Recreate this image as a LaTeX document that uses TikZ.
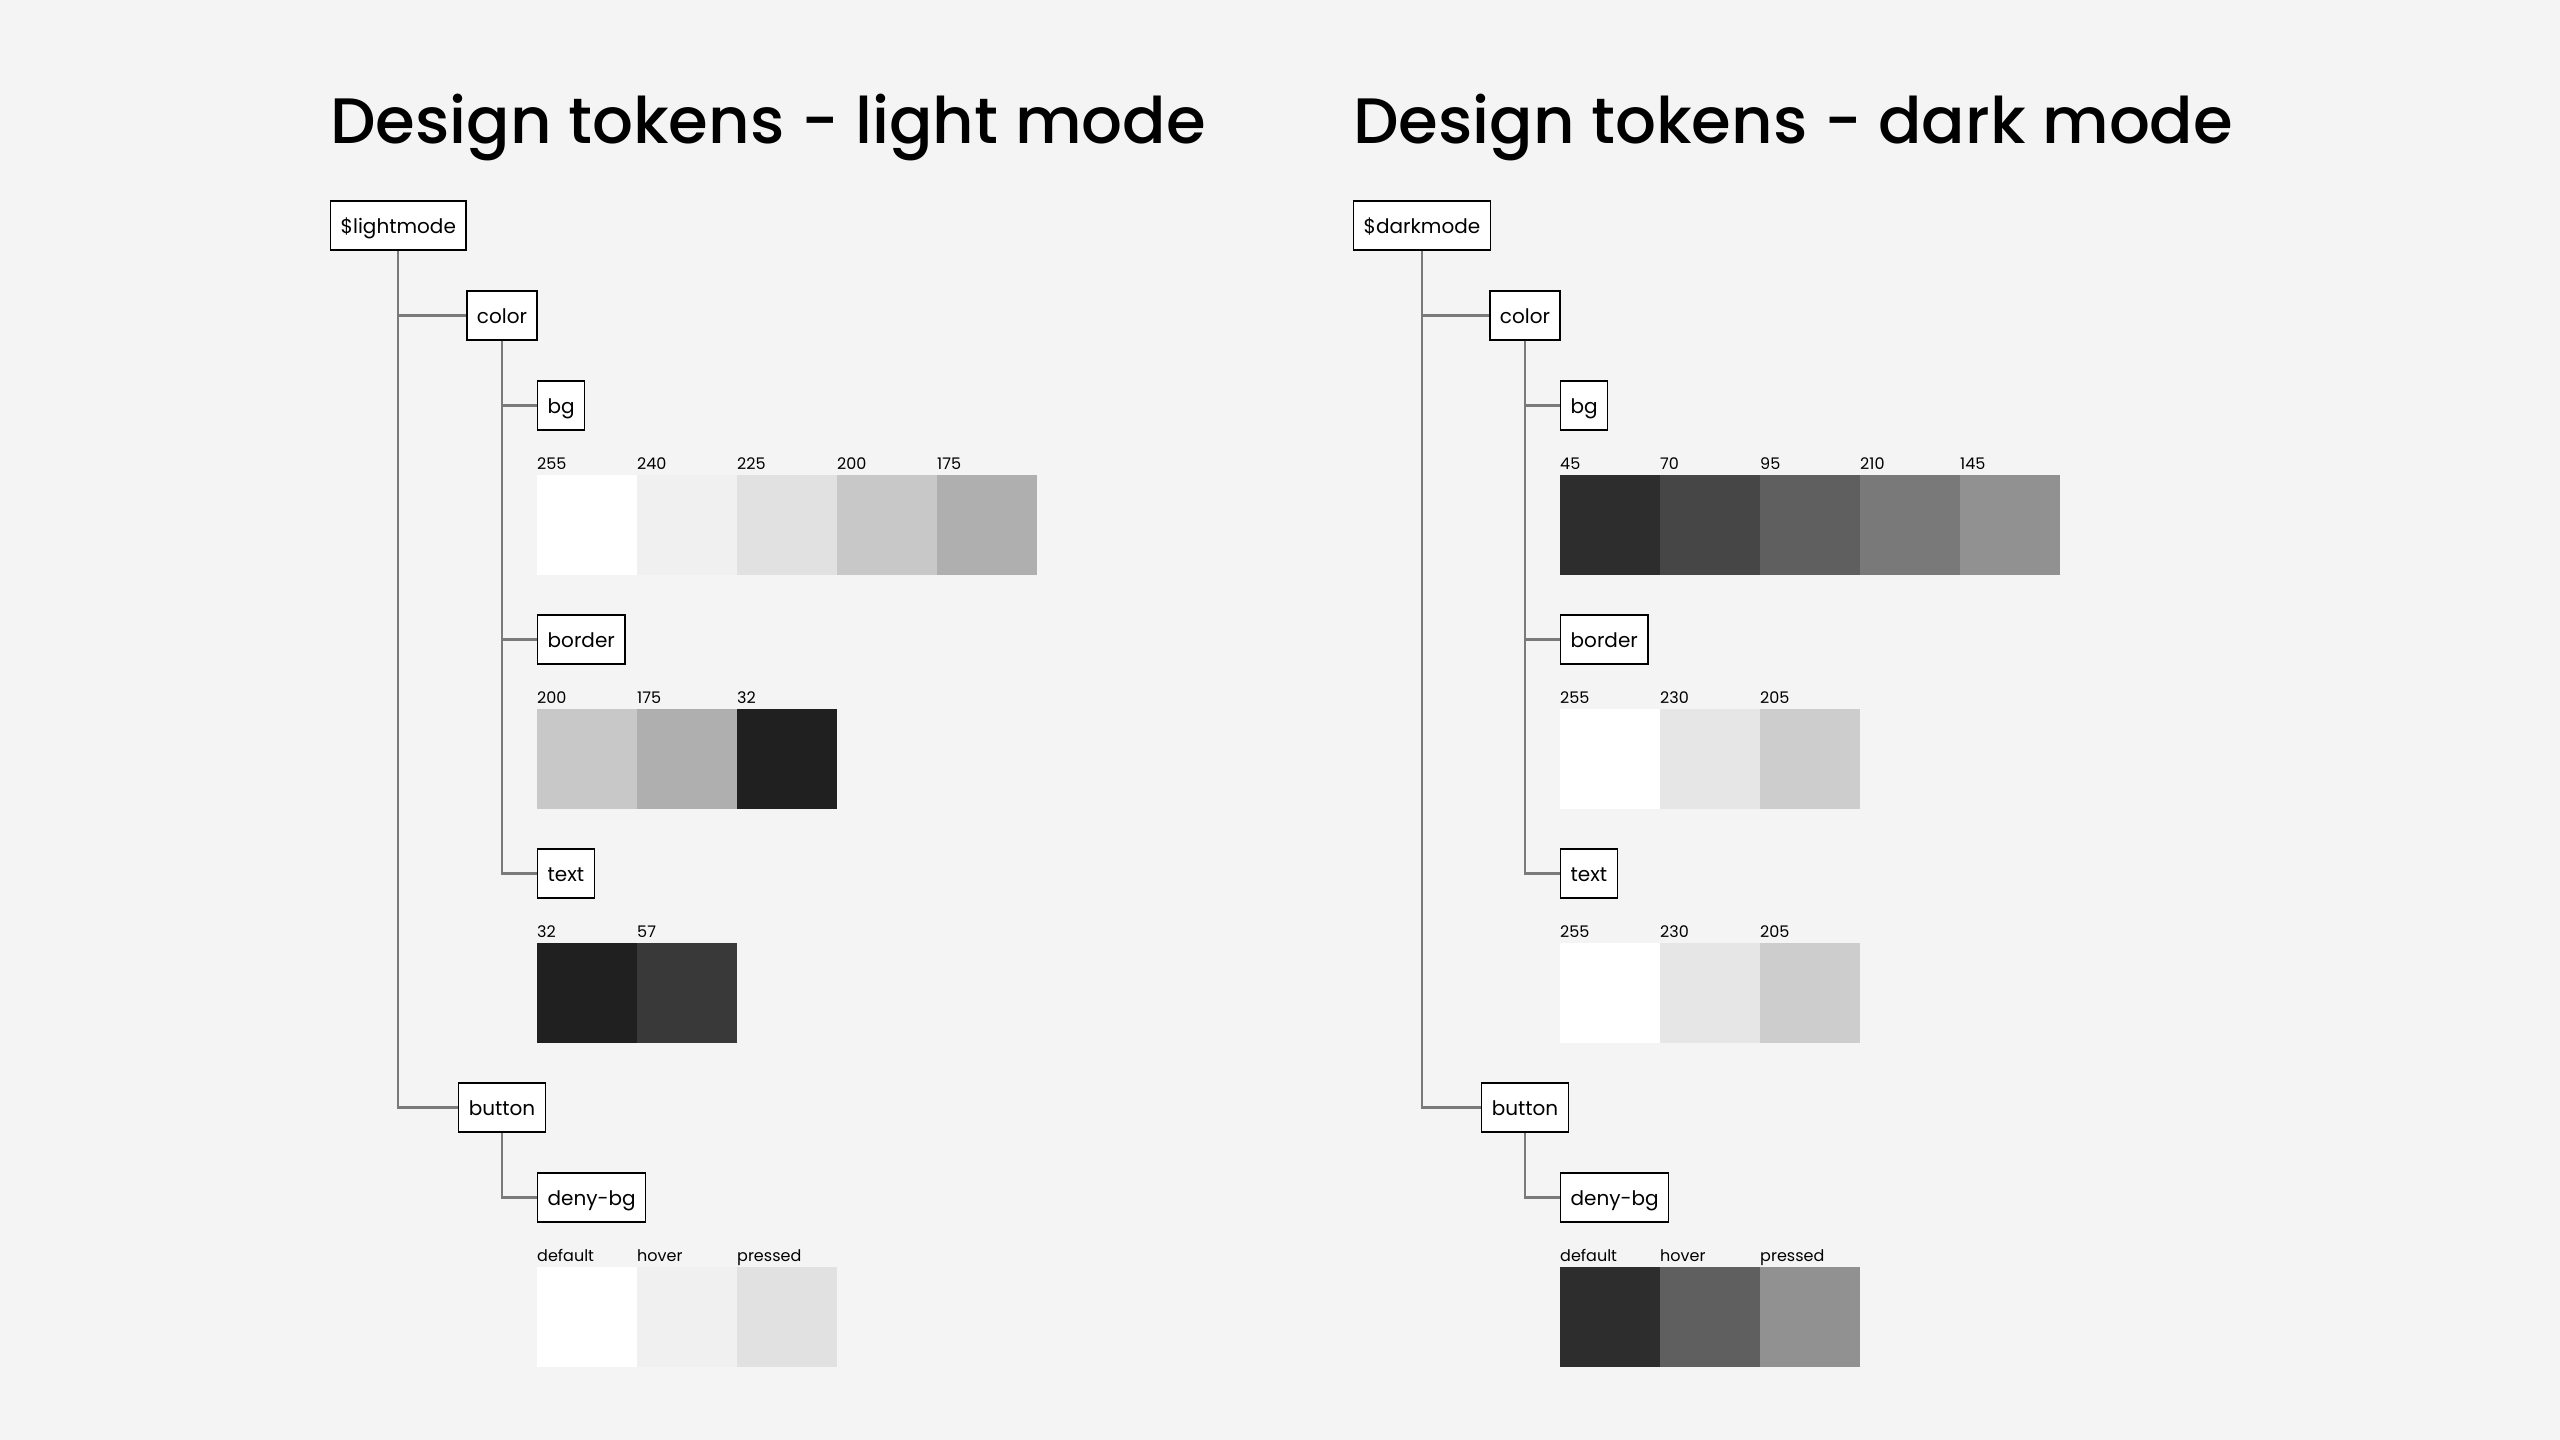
\documentclass[tikz,border=0pt]{standalone}
\usepackage{fontspec}
\setmainfont{Poppins}
\IfFontExistsTF{Poppins Medium}{\newfontfamily\titlefont{Poppins Medium}}{\newfontfamily\titlefont{Poppins}}
\usetikzlibrary{positioning, calc}

\definecolor{paper}{RGB}{244,244,244}
\definecolor{wire}{RGB}{122,122,122}

\tikzset{
  tokenbox/.style={draw=black, line width=1.4pt, fill=white, minimum height=49pt,
    inner xsep=10pt, inner ysep=0pt, text height=15pt, text depth=0pt,
    font=\fontsize{20}{24}\selectfont},
  swatch/.style={anchor=north west, minimum width=100pt, minimum height=100pt,
    inner sep=0pt, outer sep=0pt},
  swatchlabel/.style={anchor=base west, inner sep=0pt, yshift=6pt,
    font=\fontsize{16}{19}\selectfont},
  branch/.style={draw=wire, line width=2.2pt},
  heading/.style={anchor=base west, inner sep=0pt,
    font=\titlefont\fontsize{64.2}{70}\selectfont},
}

% row of colour chips: name, top left corner, label/grey pairs
\newcommand{\swatchrow}[3]{%
  \foreach \lbl/\g [count=\i] in {#3} {
    \definecolor{chip}{RGB}{\g,\g,\g}
    \node[swatch, fill=chip] (#1-\i) at ($(#2)+(\i*100-100,0)$) {};
    \node[swatchlabel] at (#1-\i.north west) {\lbl};
  }%
}

\begin{document}
\begin{tikzpicture}[x=1pt, y=-1pt]
  \fill[paper] (0,0) rectangle (2560,1440);
  \useasboundingbox (0,0) rectangle (2560,1440);

  % light mode
  \node[heading] (ltitle) at (330,143) {Design tokens - light mode};
  \node[tokenbox, anchor=west] (lroot) at (330,225.5) {\$lightmode};
  \node[tokenbox] (lcolor) at (502,315.5) {color};
  \node[tokenbox, anchor=west] (lbg) at (537,405.5) {bg};
  \swatchrow{lbgs}{537,475}{255/255, 240/240, 225/225, 200/200, 175/175}
  \node[tokenbox, anchor=west] (lborder) at (537,639.5) {border};
  \swatchrow{lbords}{537,709}{200/200, 175/175, 32/32}
  \node[tokenbox, anchor=west] (ltext) at (537,873.5) {text};
  \swatchrow{ltexts}{537,943}{32/32, 57/57}
  \node[tokenbox] (lbutton) at (502,1107.5) {button};
  \node[tokenbox, anchor=west] (ldeny) at (537,1197.5) {deny-bg};
  \swatchrow{ldenys}{537,1267}{default/255, hover/240, pressed/225}

  \draw[branch] (lroot.south) |- (lcolor.west);
  \draw[branch] (lroot.south) |- (lbutton.west);
  \draw[branch] (lcolor.south) |- (lbg.west);
  \draw[branch] (lcolor.south) |- (lborder.west);
  \draw[branch] (lcolor.south) |- (ltext.west);
  \draw[branch] (lbutton.south) |- (ldeny.west);

  % dark mode
  \node[heading] (dtitle) at (1353,143) {Design tokens - dark mode};
  \node[tokenbox, anchor=west] (droot) at (1353,225.5) {\$darkmode};
  \node[tokenbox] (dcolor) at (1525,315.5) {color};
  \node[tokenbox, anchor=west] (dbg) at (1560,405.5) {bg};
  \swatchrow{dbgs}{1560,475}{45/45, 70/70, 95/95, 210/121, 145/145}
  \node[tokenbox, anchor=west] (dborder) at (1560,639.5) {border};
  \swatchrow{dbords}{1560,709}{255/255, 230/230, 205/205}
  \node[tokenbox, anchor=west] (dtext) at (1560,873.5) {text};
  \swatchrow{dtexts}{1560,943}{255/255, 230/230, 205/205}
  \node[tokenbox] (dbutton) at (1525,1107.5) {button};
  \node[tokenbox, anchor=west] (ddeny) at (1560,1197.5) {deny-bg};
  \swatchrow{ddenys}{1560,1267}{default/45, hover/95, pressed/145}

  \draw[branch] (droot.south) |- (dcolor.west);
  \draw[branch] (droot.south) |- (dbutton.west);
  \draw[branch] (dcolor.south) |- (dbg.west);
  \draw[branch] (dcolor.south) |- (dborder.west);
  \draw[branch] (dcolor.south) |- (dtext.west);
  \draw[branch] (dbutton.south) |- (ddeny.west);
\end{tikzpicture}
\end{document}
